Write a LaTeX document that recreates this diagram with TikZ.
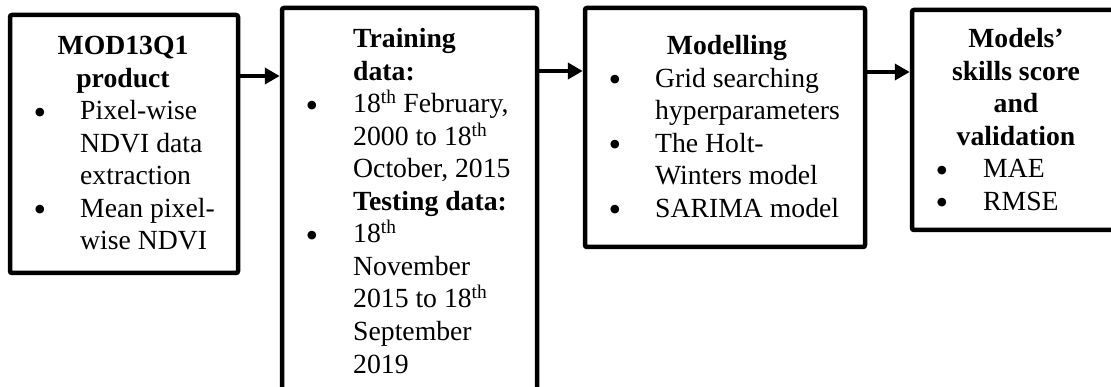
\documentclass[tikz,border=0pt]{standalone}
\usepackage{fontspec}
\setmainfont{Liberation Serif}
\usetikzlibrary{arrows.meta}
\newcommand\diafont{\fontsize{27.7}{32.5}\selectfont}
\newcommand\bulfont{\fontsize{36}{36}\selectfont}
\begin{document}
\begin{tikzpicture}[x=1pt,y=-1pt,
  box/.style={draw, line width=4.5pt, rounded corners=2pt, inner sep=0pt},
  arr/.style={line width=4pt, -{Triangle[length=15pt,width=16pt]}},
  txt/.style={anchor=base west, inner sep=0pt, font=\diafont},
  ttl/.style={anchor=base, inner sep=0pt, font=\diafont\bfseries},
  ttlw/.style={anchor=base west, inner sep=0pt, font=\diafont\bfseries},
  bul/.style={anchor=base, inner sep=0pt, font=\bulfont, yshift=-4.5pt}
]
\useasboundingbox (0,0) rectangle (1111,387);
% boxes
\node[box, minimum width=228pt, minimum height=258pt] (b1) at (124,144) {};
\node[box, minimum width=255pt, minimum height=422pt] (b2) at (409.5,219) {};
\node[box, minimum width=280pt, minimum height=239pt] (b3) at (725,127.5) {};
\node[box, minimum width=213pt, minimum height=220pt] (b4) at (1018.5,120) {};
% arrow heights
\coordinate (h1) at (0,76);
\coordinate (h2) at (0,71);
\coordinate (h3) at (0,72);
\draw[arr] (b1.east |- h1) -- (b2.west |- h1);
\draw[arr] (b2.east |- h2) -- (b3.west |- h2);
\draw[arr] (b3.east |- h3) -- (b4.west |- h3);
% box 1 text
\node[ttl] (t1a) at (123,55) {MOD13Q1};
\node[ttl] (t1b) at (123,87.5) {product};
\node[bul] (u1a) at (40,120) {•};
\node[txt] (l1a) at (80,120) {Pixel-wise};
\node[txt] (l1b) at (80,152.5) {NDVI data};
\node[txt] (l1c) at (80,185) {extraction};
\node[bul] (u1b) at (40,217.5) {•};
\node[txt] (l1d) at (80,217.5) {Mean pixel-};
\node[txt] (l1e) at (80,250) {wise NDVI};
% box 2 text
\node[ttlw] (t2a) at (353,48) {Training};
\node[ttlw] (t2b) at (353,80.5) {data:};
\node[bul] (u2a) at (312,113) {•};
\node[txt] (l2a) at (353,113) {18\textsuperscript{th} February,};
\node[txt] (l2b) at (353,145.5) {2000 to 18\textsuperscript{th}};
\node[txt] (l2c) at (353,178) {October, 2015};
\node[ttlw] (t2c) at (353,210.5) {Testing data:};
\node[bul] (u2b) at (312,243) {•};
\node[txt] (l2d) at (353,243) {18\textsuperscript{th}};
\node[txt] (l2e) at (353,275.5) {November};
\node[txt] (l2f) at (353,308) {2015 to 18\textsuperscript{th}};
\node[txt] (l2g) at (353,340.5) {September};
\node[txt] (l2h) at (353,373) {2019};
% box 3 text
\node[ttl] (t3a) at (727,55) {Modelling};
\node[bul] (u3a) at (615,87.5) {•};
\node[txt] (l3a) at (655,87.5) {Grid searching};
\node[txt] (l3b) at (655,120) {hyperparameters};
\node[bul] (u3b) at (615,152.5) {•};
\node[txt] (l3c) at (655,152.5) {The Holt-};
\node[txt] (l3d) at (655,185) {Winters model};
\node[bul] (u3c) at (615,217.5) {•};
\node[txt] (l3e) at (655,217.5) {SARIMA model};
% box 4 text
\node[ttl] (t4a) at (1016,48) {Models’};
\node[ttl] (t4b) at (1016,80.5) {skills score};
\node[ttl] (t4c) at (1016,113) {and};
\node[ttl] (t4d) at (1016,145.5) {validation};
\node[bul] (u4a) at (942,178) {•};
\node[txt] (l4a) at (983,178) {MAE};
\node[bul] (u4b) at (942,210.5) {•};
\node[txt] (l4b) at (983,210.5) {RMSE};
\end{tikzpicture}
\end{document}
